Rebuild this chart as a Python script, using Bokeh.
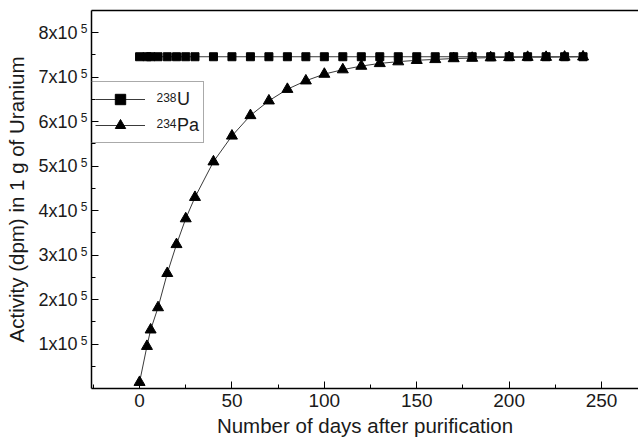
from bokeh.plotting import figure
from bokeh.models import (Range1d, FixedTicker, SingleIntervalTicker, LinearAxis,
                          Legend, LegendItem, CustomLabelingPolicy)
from bokeh.core.properties import value
from bokeh.embed import file_html
from bokeh.resources import INLINE

# ---- data ----
days = [0, 4, 6, 10, 15, 20, 25, 30, 40, 50, 60, 70, 80, 90, 100, 110, 120,
        130, 140, 150, 160, 170, 180, 190, 200, 210, 220, 230, 240]
u238 = [746000] * 29
pa234 = [14000, 95000, 132000, 182000, 259000, 324000, 382000, 430000,
         510000, 568000, 614000, 647000, 673000, 692000, 707000, 717000,
         725000, 731000, 735000, 738000, 740000, 742000, 743000, 744000,
         744500, 745000, 745000, 745500, 746000]
y_ticks = [100000, 200000, 300000, 400000, 500000, 600000, 700000, 800000]
y_minor = [50000, 150000, 250000, 350000, 450000, 550000, 650000, 750000]
y_tick_base = ["1x10", "2x10", "3x10", "4x10", "5x10", "6x10", "7x10", "8x10"]
y_tick_exp = "5"
legend_names = ["U", "Pa"]
legend_mass = ["238", "234"]

FONT = "Liberation Sans"
TXT = "#1a1a1a"
X0, X1, Y0, Y1 = -26, 270, 0, 850000
FRAME_H = 380
SUP_SHIFT = (Y1 - Y0) * 4 / FRAME_H  # raise exponents by ~4 px

NO_LABELS = CustomLabelingPolicy(code="for (const i of indices) { indices.unset(i) } return indices")

p = figure(width=638, height=439, output_backend="svg", toolbar_location=None,
           x_range=Range1d(X0, X1), y_range=Range1d(Y0, Y1),
           min_border_left=91, min_border_right=0, min_border_top=10,
           min_border_bottom=49, background_fill_color="white",
           border_fill_color="white")
p.grid.visible = False
p.outline_line_color = None
p.extra_y_ranges = {"sup": Range1d(Y0 - SUP_SHIFT, Y1 - SUP_SHIFT)}

l1 = p.line(days, u238, line_color="#3a3a3a", line_width=1)
s1 = p.scatter(days, u238, marker="square", size=8, fill_color="black",
               line_color="black")
l2 = p.line(days, pa234, line_color="#3a3a3a", line_width=1)
s2 = p.scatter(days, pa234, marker="triangle", size=11, fill_color="black",
               line_color="black")

# x axis
xa = p.xaxis[0]
xa.ticker = SingleIntervalTicker(interval=50, num_minor_ticks=2)
xa.axis_label = "Number of days after purification"
xa.axis_line_width = 1.5
xa.axis_line_color = "black"
xa.major_tick_in = 7
xa.major_tick_out = 0
xa.minor_tick_in = 4
xa.minor_tick_out = 0
xa.major_tick_line_color = "black"
xa.minor_tick_line_color = "black"
xa.major_label_text_font = FONT
xa.major_label_text_color = TXT
xa.major_label_text_font_size = "19px"
xa.major_label_standoff = 5
xa.axis_label_text_font = FONT
xa.axis_label_text_font_style = "normal"
xa.axis_label_text_font_size = "20.5px"
xa.axis_label_text_color = TXT
xa.axis_label_standoff = 4

# y axis: line + inward ticks only (nearest the frame)
ya = p.yaxis[0]
ya.ticker = FixedTicker(ticks=y_ticks, minor_ticks=y_minor)
ya.axis_line_width = 1.5
ya.axis_line_color = "black"
ya.major_tick_in = 7
ya.major_tick_out = 0
ya.minor_tick_in = 4
ya.minor_tick_out = 0
ya.major_tick_line_color = "black"
ya.minor_tick_line_color = "black"
ya.major_label_policy = NO_LABELS
ya.major_label_text_font_size = "0px"
ya.major_label_standoff = 0

# exponent labels, on a slightly shifted range so they sit raised
sup_axis = LinearAxis(y_range_name="sup",
                      ticker=FixedTicker(ticks=y_ticks, minor_ticks=[]),
                      major_label_overrides={t: y_tick_exp for t in y_ticks},
                      major_label_text_font=FONT,
                      major_label_text_font_size="12px",
                      major_label_text_color=TXT, major_label_standoff=4,
                      axis_line_color=None, major_tick_line_color=None,
                      minor_tick_line_color=None, major_tick_out=0,
                      major_tick_in=0, minor_tick_out=0, minor_tick_in=0)
# mantissa labels "8x10" and the title
main_axis = LinearAxis(ticker=FixedTicker(ticks=y_ticks, minor_ticks=[]),
                       major_label_overrides={t: l for t, l in zip(y_ticks, y_tick_base)},
                       major_label_text_font=FONT,
                       major_label_text_font_size="18px",
                       major_label_text_color=TXT, major_label_standoff=0,
                       axis_line_color=None, major_tick_line_color=None,
                       minor_tick_line_color=None, major_tick_out=0,
                       major_tick_in=0, minor_tick_out=0, minor_tick_in=0,
                       axis_label="Activity (dpm) in 1 g of Uranium",
                       axis_label_text_font=FONT,
                       axis_label_text_font_style="normal",
                       axis_label_text_font_size="20.5px",
                       axis_label_text_color=TXT, axis_label_standoff=7)
p.add_layout(sup_axis, "left")
p.add_layout(main_axis, "left")

top = LinearAxis(ticker=FixedTicker(ticks=[]), axis_line_width=1.5,
                 axis_line_color="black", major_label_policy=NO_LABELS,
                 major_label_text_font_size="0px",
                 major_tick_line_color=None, minor_tick_line_color=None,
                 major_label_standoff=0)
p.add_layout(top, "above")

legend = Legend(items=[LegendItem(label=legend_names[0], renderers=[l1, s1]),
                       LegendItem(label=legend_names[1], renderers=[l2, s2])],
                location=(-1, 245), orientation="vertical",
                border_line_color="#555555", border_line_width=1,
                background_fill_alpha=0,
                padding=4, spacing=0, glyph_width=50, glyph_height=26,
                label_height=26, label_standoff=32, margin=0,
                label_text_font=FONT, label_text_font_size="18px",
                label_text_color=TXT)
p.add_layout(legend, "center")

# mass-number superscripts in the legend (anchored at the frame's top-left)
p.text(x=[X0, X0], y=[Y1, Y1], text=legend_mass, x_offset=65,
       y_offset=[87, 113], text_font=value(FONT), text_font_size="12px",
       text_color=TXT, text_align="left", text_baseline="middle")

open("out.html", "w").write(file_html(p, INLINE))
